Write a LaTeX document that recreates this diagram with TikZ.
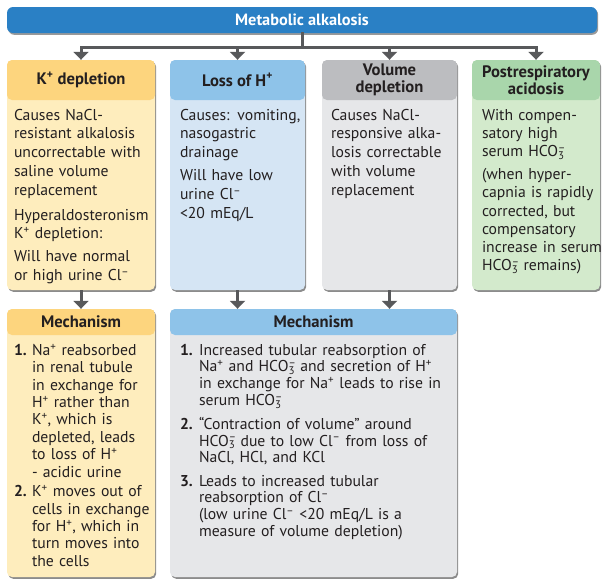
\documentclass[tikz,border=0pt]{standalone}
\usepackage{fontspec}
\setmainfont{PT Sans}
\usetikzlibrary{arrows.meta,calc,positioning,shadows}

\definecolor{barblue}{HTML}{2A80C5}
\definecolor{yelhead}{HTML}{FDD57E}
\definecolor{yelbody}{HTML}{FEEDBD}
\definecolor{bluhead}{HTML}{8EC3E9}
\definecolor{blubody}{HTML}{D5E5F4}
\definecolor{gryhead}{HTML}{BCBDC0}
\definecolor{grybody}{HTML}{E6E7E9}
\definecolor{grnhead}{HTML}{A9D6AB}
\definecolor{grnbody}{HTML}{D3EACC}
\definecolor{linkgray}{HTML}{58595B}
\definecolor{ink}{HTML}{231F20}

\newcommand{\hcothree}{HCO\rlap{\textsuperscript{--}}\textsubscript{3}}
\newcommand{\clneg}{Cl\textsuperscript{--}}
\newcommand{\plus}{\textsuperscript{+}}
\newcommand{\mitem}[3]{\makebox[#1][l]{\textbf{#2}}\parbox[t]{\dimexpr\hsize-#1\relax}{#3}}

\tikzset{
  link/.style={draw=linkgray, line width=3pt, line cap=rect},
  arrow/.style={draw=linkgray, line width=3pt, -{Triangle[width=15pt,length=8pt]}},
  card/.style n args={3}{rectangle, rounded corners=5pt, inner sep=0pt, fill=#2,
    drop shadow={shadow xshift=1.2pt, shadow yshift=-1.8pt, fill=black, opacity=.45},
    path picture={\fill[#1] (path picture bounding box.north west)
      rectangle ([yshift=-#3]path picture bounding box.north east);}},
  bar/.style={rectangle, rounded corners=6pt, fill=barblue, text=white,
    minimum width=590pt, minimum height=26pt, font=\bfseries\fontsize{16.3}{18}\selectfont,
    drop shadow={shadow xshift=1.2pt, shadow yshift=-1.8pt, fill=black, opacity=.4}},
  headtxt/.style={font=\bfseries\fontsize{16.6}{17}\selectfont, align=center, text=ink},
  bodytxt/.style={anchor=north west, inner sep=0pt, align=left, text=ink,
    font=\fontsize{15.7}{18.8}\selectfont},
  mechtxt/.style={bodytxt, font=\fontsize{15.7}{17.4}\selectfont}
}

\begin{document}
\begin{tikzpicture}[x=1pt,y=-1pt]
\useasboundingbox (0,0) rectangle (602,579);

\node[bar] (top) at (302,20) {Metabolic alkalosis};

% causes
\node[card={yelhead}{yelbody}{40pt}, minimum width=148pt, minimum height=230pt] (kdep) at (81,175) {};
\node[card={bluhead}{blubody}{40pt}, minimum width=135pt, minimum height=230pt] (hloss) at (237.5,175) {};
\node[card={gryhead}{grybody}{40pt}, minimum width=135pt, minimum height=230pt] (vol) at (389.5,175) {};
\node[card={grnhead}{grnbody}{40pt}, minimum width=128pt, minimum height=230pt] (post) at (536,175) {};

\node[headtxt] (kdep-h) at ($(kdep.north)+(0,20)$) {K\plus{} depletion};
\node[headtxt] (hloss-h) at ($(hloss.north)+(0,20)$) {Loss of H\plus};
\node[headtxt] (vol-h) at ($(vol.north)+(0,20)$) {Volume\\depletion};
\node[headtxt] (post-h) at ($(post.north)+(0,20)$) {Postrespiratory\\acidosis};

\node[bodytxt, text width=142pt] (kdep-b) at ($(kdep.north west)+(7,49)$) {%
  Causes NaCl-\\resistant alkalosis\\uncorrectable with\\saline volume\\replacement\\[6pt]
  Hyperaldosteronism\\K\plus{} depletion:\\[4pt]
  Will have normal\\or high urine \clneg};
\node[bodytxt, text width=128pt] (hloss-b) at ($(hloss.north west)+(10,49)$) {%
  Causes: vomiting,\\nasogastric\\drainage\\[4pt]
  Will have low\\urine \clneg\\<20 mEq/L};
\node[bodytxt, text width=128pt] (vol-b) at ($(vol.north west)+(9,49)$) {%
  Causes NaCl-\\responsive alka-\\losis correctable\\with volume\\replacement};
\node[bodytxt, text width=125pt, font=\fontsize{15.7}{18.2}\selectfont] (post-b) at ($(post.north west)+(10,49)$) {%
  With compen-\\satory high\\serum \hcothree\\[5pt]
  (when hyper-\\capnia is rapidly\\corrected, but\\compensatory\\increase in serum\\\hcothree{} remains)};

% mechanisms
\node[card={yelhead}{yelbody}{26pt}, minimum width=148pt, minimum height=268pt] (mechk) at (81,443) {};
\node[card={bluhead}{grybody}{26pt}, minimum width=287pt, minimum height=268pt] (mechv) at (313.5,443) {};

\node[headtxt] (mechk-h) at ($(mechk.north)+(0,13)$) {Mechanism};
\node[headtxt] (mechv-h) at ($(mechv.north)+(0,13)$) {Mechanism};

\node[mechtxt, text width=141pt] (mechk-b) at ($(mechk.north west)+(7,35)$) {%
  \mitem{18pt}{1.}{Na\plus{} reabsorbed\\in renal tubule\\in exchange for\\H\plus{} rather than\\K\plus, which is\\depleted, leads\\to loss of H\plus\\- acidic urine}\par\vspace{7pt}
  \mitem{18pt}{2.}{K\plus{} moves out of\\cells in exchange\\for H\plus, which in\\turn moves into\\the cells}};
\node[mechtxt, text width=276pt, font=\fontsize{15.7}{16.7}\selectfont] (mechv-b) at ($(mechv.north west)+(10,35)$) {%
  \mitem{19pt}{1.}{Increased tubular reabsorption of\\Na\plus{} and \hcothree{} and secretion of H\plus\\in exchange for Na\plus{} leads to rise in\\serum \hcothree}\par\vspace{8pt}
  \mitem{19pt}{2.}{“Contraction of volume” around\\\hcothree{} due to low \clneg{} from loss of\\NaCl, HCl, and KCl}\par\vspace{9pt}
  \mitem{19pt}{3.}{Leads to increased tubular\\reabsorption of \clneg\\(low urine \clneg{} <20 mEq/L is a\\measure of volume depletion)}};

% connectors
\coordinate (fork) at ($(top.south)+(0,14)$);
\draw[link] (top.south) -- (fork);
\draw[link] (fork -| kdep.north) -- (fork -| post.north);
\foreach \b in {kdep,hloss,vol,post}
  \draw[arrow] (fork -| \b.north) -- (\b.north);
\draw[arrow] (kdep.south) -- (mechk.north);
\draw[arrow] (hloss.south) -- (hloss.south |- mechv.north);
\draw[arrow] (vol.south) -- (vol.south |- mechv.north);
\end{tikzpicture}
\end{document}
